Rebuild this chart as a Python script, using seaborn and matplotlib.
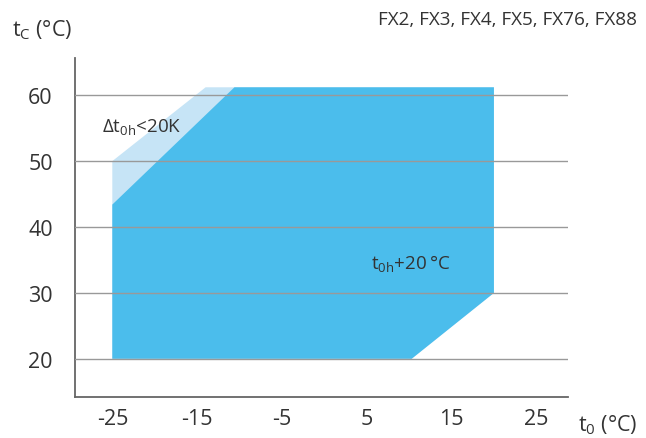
import matplotlib
matplotlib.use("Agg")
import matplotlib.pyplot as plt
import seaborn as sns

# Operating envelope: evaporating temperature t0 vs condensing temperature tc
x_ticks = [-25, -15, -5, 5, 15, 25]
y_ticks = [20, 30, 40, 50, 60]

# Extended envelope (superheat limit band, light)
ext_t0 = [-25, -25, -14, 20, 20, 10.3]
ext_tc = [20, 50, 61.2, 61.2, 30, 20]

# Main envelope (dark)
main_t0 = [-25, -25, -10.6, 20, 20, 10.3]
main_tc = [20, 43.4, 61.2, 61.2, 30, 20]

models = "FX2, FX3, FX4, FX5, FX76, FX88"

sns.set_theme(style="white")
plt.rcParams["font.family"] = ["Open Sans", "DejaVu Sans"]
plt.rcParams["mathtext.fontset"] = "custom"
plt.rcParams["mathtext.rm"] = "Open Sans"
plt.rcParams["mathtext.it"] = "Open Sans"

text_col = "#333333"
grid_col = "#999999"
spine_col = "#666666"

fig = plt.figure(figsize=(6.46, 4.39), dpi=100)
ax = fig.add_axes([75 / 646, (439 - 398) / 439, (567.7 - 75) / 646, (398 - 59.3) / 439])

ax.fill(ext_t0, ext_tc, color="#c6e4f6", lw=0, zorder=1)
ax.fill(main_t0, main_tc, color="#4bbdec", lw=0, zorder=2)

ax.set_xlim(-29.4, 28.7)
ax.set_ylim(14.2, 65.6)
ax.set_xticks(x_ticks)
ax.set_yticks(y_ticks)
ax.set_xticklabels([str(v) for v in x_ticks])
ax.set_yticklabels([str(v) for v in y_ticks])

ax.grid(axis="y", color=grid_col, lw=1.0, zorder=3)
ax.grid(axis="x", visible=False)
ax.set_axisbelow(False)

for s in ["top", "right"]:
    ax.spines[s].set_visible(False)
for s in ["left", "bottom"]:
    ax.spines[s].set_color(spine_col)
    ax.spines[s].set_linewidth(1.3)

ax.tick_params(axis="both", direction="out", length=5, width=1.2, color=grid_col,
               labelsize=15.5, labelcolor=text_col)
ax.tick_params(axis="y", pad=11)
ax.tick_params(axis="x", pad=3)

fig.text(12 / 646, 1 - 30 / 439, r"$\mathrm{t_C}$ (°C)", fontsize=15.5, color=text_col,
         ha="left", va="center")
fig.text(578 / 646, 1 - 425 / 439, r"$\mathrm{t_0}$ (°C)", fontsize=15.5, color=text_col,
         ha="left", va="center")
fig.text(637 / 646, 1 - 20 / 439, models, fontsize=13.6, color=text_col,
         ha="right", va="center")

ax.text(-26.2, 55.3, r"Δ$\mathrm{t_{0h}}$<20K", fontsize=13.5, color=text_col,
        ha="left", va="center", zorder=4)
ax.text(5.5, 34.6, "$\\mathrm{t_{0h}}$+20\u2009°C", fontsize=13.5, color=text_col,
        ha="left", va="center", zorder=4)

fig.savefig("out.png", dpi=100)
